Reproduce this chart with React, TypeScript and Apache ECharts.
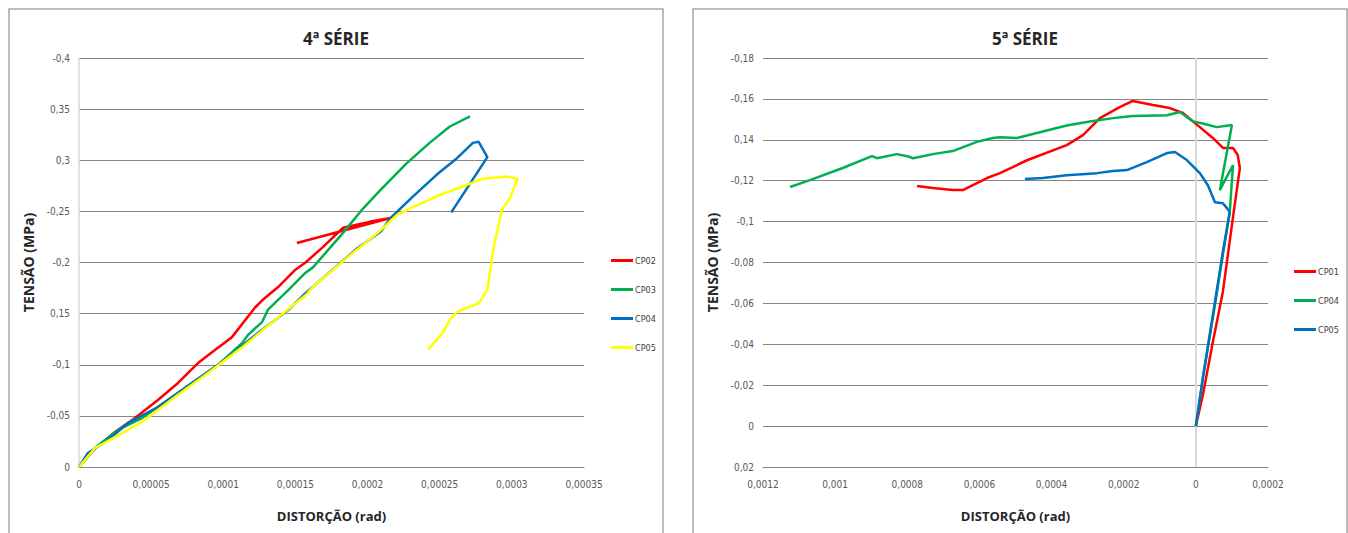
import React, { useEffect, useRef } from "react";
import * as echarts from "echarts";

// ---------- 4ª SÉRIE ----------
const ticks4X = [0, 0.00005, 0.0001, 0.00015, 0.0002, 0.00025, 0.0003, 0.00035];
const labels4X = ["0", "0,00005", "0,0001", "0,00015", "0,0002", "0,00025", "0,0003", "0,00035"];
const ticks4Y = [0, -0.05, -0.1, -0.15, -0.2, -0.25, -0.3, -0.35, -0.4];
const labels4Y = ["0", "-0,05", "-0,1", "0,15", "-0,2", "-0,25", "0,3", "0,35", "-0,4"];

const s4_CP02: [number, number][] = [
  [0, 0], [1.1e-5, -0.018], [2.49e-5, -0.0342], [3.88e-5, -0.0479], [5.47e-5, -0.0655],
  [6.86e-5, -0.0822], [8.25e-5, -0.1017], [9.42e-5, -0.1144], [1.06e-4, -0.127],
  [1.22e-4, -0.156], [1.27e-4, -0.163], [1.38e-4, -0.176], [1.5e-4, -0.193],
  [1.57e-4, -0.2], [1.69e-4, -0.215], [1.83e-4, -0.234], [2.02e-4, -0.24],
  [2.16e-4, -0.2435], [1.51e-4, -0.219],
];
const s4_CP03: [number, number][] = [
  [0, 0], [1.11e-5, -0.0186], [2.7e-5, -0.0362], [4.37e-5, -0.0479], [6.17e-5, -0.0655],
  [7.83e-5, -0.0822], [9.63e-5, -0.0998], [1.13e-4, -0.121], [1.17e-4, -0.129],
  [1.27e-4, -0.142], [1.31e-4, -0.154], [1.45e-4, -0.173], [1.57e-4, -0.19],
  [1.62e-4, -0.195], [1.83e-4, -0.229], [1.97e-4, -0.253], [2.09e-4, -0.271],
  [2.27e-4, -0.297], [2.43e-4, -0.317], [2.57e-4, -0.333], [2.71e-4, -0.343],
];
const s4_CP04: [number, number][] = [
  [0, 0], [6.2e-6, -0.0137], [2.01e-5, -0.0264], [3.4e-5, -0.043], [5.47e-5, -0.0587],
  [7.83e-5, -0.0822], [1.01e-4, -0.1046], [1.24e-4, -0.131], [1.45e-4, -0.1535],
  [1.57e-4, -0.17], [1.62e-4, -0.176], [1.93e-4, -0.214], [2.09e-4, -0.23],
  [2.16e-4, -0.2435], [2.31e-4, -0.264], [2.48e-4, -0.286], [2.62e-4, -0.302],
  [2.73e-4, -0.317], [2.77e-4, -0.318], [2.83e-4, -0.303], [2.58e-4, -0.249],
];
const s4_CP05: [number, number][] = [
  [0, 0], [1.11e-5, -0.0186], [2.49e-5, -0.0293], [4.37e-5, -0.044], [6.65e-5, -0.0685],
  [8.94e-5, -0.0919], [1.13e-4, -0.117], [1.36e-4, -0.144], [1.57e-4, -0.168],
  [1.62e-4, -0.176], [1.86e-4, -0.205], [2.07e-4, -0.229], [2.2e-4, -0.246],
  [2.31e-4, -0.254], [2.5e-4, -0.266], [2.69e-4, -0.276], [2.8e-4, -0.282],
  [2.97e-4, -0.284], [3.04e-4, -0.282], [2.99e-4, -0.264], [2.93e-4, -0.251],
  [2.87e-4, -0.212], [2.83e-4, -0.173], [2.77e-4, -0.16], [2.62e-4, -0.152],
  [2.57e-4, -0.144], [2.52e-4, -0.131], [2.42e-4, -0.115],
];

// ---------- 5ª SÉRIE ----------
const ticks5X = [-0.0002, 0, 0.0002, 0.0004, 0.0006, 0.0008, 0.001, 0.0012];
const labels5X = ["0,0002", "0", "0,0002", "0,0004", "0,0006", "0,0008", "0,001", "0,0012"];
const ticks5Y = [0.02, 0, -0.02, -0.04, -0.06, -0.08, -0.1, -0.12, -0.14, -0.16, -0.18];
const labels5Y = ["0,02", "0", "-0,02", "-0,04", "-0,06", "-0,08", "-0,1", "-0,12", "0,14", "-0,16", "-0,18"];

const s5_CP01: [number, number][] = [
  [0, 0], [-1.94e-5, -0.0152], [-4.71e-5, -0.0411], [-7.48e-5, -0.0656], [-1.026e-4, -0.1017],
  [-1.22e-4, -0.1262], [-1.16e-4, -0.1326], [-1.03e-4, -0.136], [-7.5e-5, -0.136],
  [-4.7e-5, -0.1409], [-1.1e-5, -0.1462], [3.6e-5, -0.1531], [7.2e-5, -0.1555],
  [1.19e-4, -0.157], [1.75e-4, -0.159], [2.11e-4, -0.156], [2.66e-4, -0.1506],
  [3.13e-4, -0.1423], [3.58e-4, -0.1374], [4.68e-4, -0.13], [5.43e-4, -0.1237],
  [5.79e-4, -0.1213], [6.46e-4, -0.1154], [6.74e-4, -0.1154], [7.29e-4, -0.1164],
  [7.73e-4, -0.1174],
];
const s5_CP04: [number, number][] = [
  [0, 0], [-1.94e-5, -0.0235], [-4.71e-5, -0.0528], [-7.48e-5, -0.0836], [-9.4e-5, -0.1047],
  [-1.03e-4, -0.1276], [-6.65e-5, -0.1154], [-1.0e-4, -0.1472], [-5.8e-5, -0.1462],
  [-1.94e-5, -0.148], [8.3e-6, -0.149], [4.4e-5, -0.1536], [8.0e-5, -0.152],
  [1.75e-4, -0.1516], [2.3e-4, -0.1506], [2.94e-4, -0.149], [3.58e-4, -0.147],
  [4.52e-4, -0.1428], [4.96e-4, -0.1409], [5.43e-4, -0.1413], [5.63e-4, -0.1409],
  [6.07e-4, -0.139], [6.74e-4, -0.1345], [7.29e-4, -0.133], [7.84e-4, -0.131],
  [8.0e-4, -0.132], [8.29e-4, -0.133], [8.84e-4, -0.131], [8.98e-4, -0.132],
  [9.79e-4, -0.1262], [1.07e-3, -0.1203], [1.125e-3, -0.1169],
];
const s5_CP05: [number, number][] = [
  [0, 0], [-1.94e-5, -0.0235], [-4.71e-5, -0.0543], [-7.48e-5, -0.0851], [-9.4e-5, -0.1047],
  [-8.6e-5, -0.1066], [-7.5e-5, -0.109], [-5.3e-5, -0.1095], [-3.3e-5, -0.1179],
  [-1.1e-5, -0.1237], [2.5e-5, -0.1301], [5.8e-5, -0.134], [8.0e-5, -0.1335],
  [1.36e-4, -0.1291], [1.91e-4, -0.1252], [2.3e-4, -0.1247], [2.74e-4, -0.1237],
  [3.58e-4, -0.1227], [4.24e-4, -0.1213], [4.74e-4, -0.1208],
];

const RED = "#FF0000";
const GREEN = "#00B050";
const BLUE = "#0070C0";
const YELLOW = "#FFFF00";

const labelFont = "'Liberation Sans Narrow', 'DejaVu Sans Condensed', 'Liberation Sans', sans-serif";
const boldFont = "'Open Sans', 'Noto Sans', sans-serif";

function pick(ticks: number[], labels: string[]) {
  return (v: number) => {
    let best = 0;
    let bd = Infinity;
    ticks.forEach((t, i) => {
      const d = Math.abs(t - v);
      if (d < bd) { bd = d; best = i; }
    });
    return labels[best];
  };
}

function lineSeries(name: string, data: [number, number][], color: string, extra: any = {}) {
  return {
    name,
    type: "line",
    data,
    showSymbol: false,
    symbol: "none",
    smooth: false,
    lineStyle: { color, width: 2.5 },
    itemStyle: { color },
    z: 3,
    ...extra,
  };
}

const axisLabelStyle = { color: "#595959", fontSize: 10, fontFamily: labelFont };

function makeOption(cfg: {
  title: string; titleX: number; frameX: number; frameW: number; gridLeft: number;
  xMin: number; xMax: number; xInt: number; xInverse: boolean; xTicks: number[]; xLabels: string[];
  yMin: number; yMax: number; yInt: number; yTicks: number[]; yLabels: string[];
  yAxisLine: boolean; series: any[]; legendLeft: number; legendTop: number; legendData: string[];
}) {
  return {
    animation: false,
    backgroundColor: "#ffffff",
    title: {
      text: cfg.title,
      left: cfg.titleX,
      top: 25,
      textAlign: "center",
      textStyle: { fontFamily: boldFont, fontWeight: "bold", fontSize: 17, color: "#262626" },
    },
    graphic: [
      {
        type: "rect",
        shape: { x: cfg.frameX, y: 9, width: cfg.frameW, height: 560 },
        style: { fill: "none", stroke: "#A6A6A6", lineWidth: 1.5 },
        silent: true,
        z: -1,
      },
    ],
    legend: {
      orient: "vertical",
      left: cfg.legendLeft,
      top: cfg.legendTop,
      itemWidth: 22,
      itemHeight: 3,
      itemGap: 20,
      icon: "rect",
      data: cfg.legendData,
      textStyle: { fontFamily: labelFont, fontSize: 9, color: "#404040", padding: [0, 0, 0, -3] },
    },
    grid: { left: cfg.gridLeft, top: 58, width: 505, height: 409 },
    xAxis: {
      type: "value",
      min: cfg.xMin,
      max: cfg.xMax,
      interval: cfg.xInt,
      inverse: cfg.xInverse,
      name: "DISTORÇÃO (rad)",
      nameLocation: "middle",
      nameGap: 42,
      nameTextStyle: { fontFamily: boldFont, fontWeight: "bold", fontSize: 13, color: "#262626" },
      axisLine: { show: true, onZero: false, lineStyle: { color: "#868686", width: 1 } },
      axisTick: { show: false },
      splitLine: { show: false },
      axisLabel: {
        ...axisLabelStyle,
        margin: 12,
        showMinLabel: true,
        showMaxLabel: true,
        formatter: pick(cfg.xTicks, cfg.xLabels),
      },
    },
    yAxis: {
      type: "value",
      min: cfg.yMin,
      max: cfg.yMax,
      interval: cfg.yInt,
      inverse: true,
      name: "TENSÃO (MPa)",
      nameLocation: "middle",
      nameGap: 40,
      nameTextStyle: { fontFamily: boldFont, fontWeight: "bold", fontSize: 14, color: "#262626" },
      axisLine: { show: cfg.yAxisLine, onZero: false, lineStyle: { color: "#D9D9D9", width: 1.5 } },
      axisTick: { show: false },
      splitLine: { show: true, lineStyle: { color: "#868686", width: 1 } },
      axisLabel: {
        ...axisLabelStyle,
        margin: 9,
        showMinLabel: true,
        showMaxLabel: true,
        formatter: pick(cfg.yTicks, cfg.yLabels),
      },
    },
    series: cfg.series,
  };
}

export default function App() {
  const leftRef = useRef<HTMLDivElement>(null);
  const rightRef = useRef<HTMLDivElement>(null);

  useEffect(() => {
    const left = echarts.init(leftRef.current!, undefined, { renderer: "svg" });
    const right = echarts.init(rightRef.current!, undefined, { renderer: "svg" });

    left.setOption(
      makeOption({
        title: "4ª SÉRIE",
        titleX: 331,
        frameX: 9,
        frameW: 654,
        gridLeft: 79,
        xMin: 0, xMax: 0.00035, xInt: 0.00005, xInverse: false, xTicks: ticks4X, xLabels: labels4X,
        yMin: -0.4, yMax: 0, yInt: 0.05, yTicks: ticks4Y, yLabels: labels4Y,
        yAxisLine: true,
        legendLeft: 606,
        legendTop: 251,
        legendData: ["CP02", "CP03", "CP04", "CP05"],
        series: [
          lineSeries("CP02", s4_CP02, RED),
          lineSeries("CP03", s4_CP03, GREEN),
          lineSeries("CP04", s4_CP04, BLUE),
          lineSeries("CP05", s4_CP05, YELLOW),
        ],
      }) as any
    );

    right.setOption(
      makeOption({
        title: "5ª SÉRIE",
        titleX: 342,
        frameX: 15,
        frameW: 654,
        gridLeft: 85,
        xMin: -0.0002, xMax: 0.0012, xInt: 0.0002, xInverse: true, xTicks: ticks5X, xLabels: labels5X,
        yMin: -0.18, yMax: 0.02, yInt: 0.02, yTicks: ticks5Y, yLabels: labels5Y,
        yAxisLine: false,
        legendLeft: 611,
        legendTop: 262,
        legendData: ["CP01", "CP04", "CP05"],
        series: [
          lineSeries("CP01", s5_CP01, RED, {
            markLine: {
              silent: true,
              symbol: "none",
              label: { show: false },
              lineStyle: { color: "#D9D9D9", width: 2, type: "solid" },
              data: [{ xAxis: 0 }],
              z: 1,
            },
          }),
          lineSeries("CP04", s5_CP04, GREEN),
          lineSeries("CP05", s5_CP05, BLUE),
        ],
      }) as any
    );

    return () => {
      left.dispose();
      right.dispose();
    };
  }, []);

  return (
    <div style={{ position: "fixed", left: 0, top: 0, width: 1348, height: 533, background: "#fff" }}>
      <div ref={leftRef} style={{ position: "absolute", left: 0, top: 0, width: 678, height: 533 }} />
      <div ref={rightRef} style={{ position: "absolute", left: 678, top: 0, width: 670, height: 533 }} />
    </div>
  );
}
